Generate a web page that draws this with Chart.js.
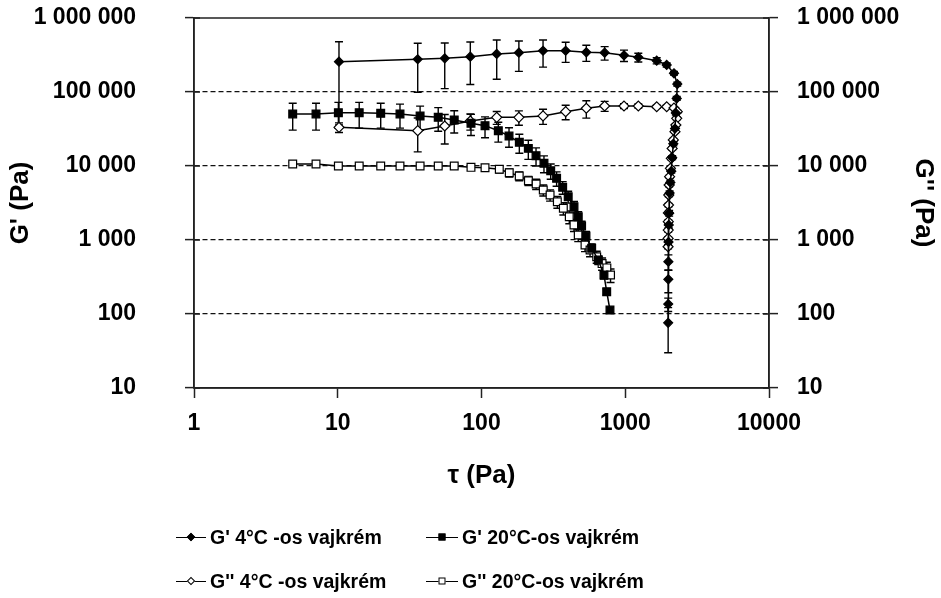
<!DOCTYPE html>
<html>
<head>
<meta charset="utf-8">
<script src="https://cdn.jsdelivr.net/npm/chart.js@4.4.1/dist/chart.umd.min.js"></script>
<style>
  body { margin: 0; background: #fff; }
  #wrap { position: relative; width: 941px; height: 598px; }
  .leg { position: absolute; display: flex; align-items: center; height: 24px;
         font: bold 19.5px "Liberation Sans", Arial, sans-serif; color: #000; white-space: nowrap; }
  .smp { position: relative; width: 30px; height: 0; border-top: 1.5px solid #000; margin-right: 4px; }
  .smp i { position: absolute; left: 50%; top: -0.75px; width: 7px; height: 7px; box-sizing: border-box;
           border: 1.2px solid #000; transform: translate(-50%, -50%); }
  .smp i.dia { width: 6px; height: 6px; transform: translate(-50%, -50%) rotate(45deg); }
  .smp i.fill { background: #000; }
  .smp i.open { background: #fff; }
</style>
</head>
<body>
<div id="wrap">
  <canvas id="rheoChart"></canvas>
  <div class="leg" style="left:176px; top:525px;"><span class="smp"><i class="dia fill"></i></span>G' 4°C -os vajkrém</div>
  <div class="leg" style="left:426px; top:525px;"><span class="smp" style="width:32px"><i class="fill"></i></span>G' 20°C-os vajkrém</div>
  <div class="leg" style="left:176px; top:569px;"><span class="smp"><i class="dia open"></i></span>G'' 4°C -os vajkrém</div>
  <div class="leg" style="left:426px; top:569px;"><span class="smp" style="width:32px"><i class="open"></i></span>G'' 20°C-os vajkrém</div>
</div>
<script>
// G' 4°C
const tauGp4 = [10.2, 36, 55.5, 83.6, 127.6, 182, 268, 385, 536, 719, 980, 1233, 1655, 1942, 2183,
  2301, 2280, 2250, 2218, 2160, 2120, 2090, 2060, 2035, 2020, 2008, 2000, 1996, 1993, 1990, 1988];
const gp4 = [257000, 277000, 285000, 300000, 327000, 340000, 361000, 361000, 344000, 340000, 313000, 294000, 265000, 232000, 179000,
  128000, 82000, 52000, 32000, 20000, 13000, 8500, 6000, 4300, 2300, 1600, 940, 509, 294, 136, 76];
const errGp4 = [221000, 178000, 174000, 174000, 178000, 150000, 144000, 110000, 85000, 70000, 55000, 40000, 25000, 15000, 10000,
  8000, 5000, 3000, 2000, 1200, 800, 500, 400, 300, 200, 150, 110, 120, 100, 28, 46];

// G'' 4°C
const tauGpp4 = [10.2, 36, 55.5, 83.6, 127.6, 182, 268, 385, 536, 719, 980, 1233, 1655, 1942, 2183,
  2301, 2280, 2250, 2218, 2160, 2120, 2090, 2060, 2035, 2020, 2008, 2000, 1996, 1993, 1990, 1988, 1986];
const gpp4 = [33300, 30000, 34700, 40500, 45500, 45500, 47500, 54200, 60300, 64700, 64700, 64700, 63200, 63200, 60800,
  54200, 44100, 35800, 29100, 22500, 17300, 12700, 9300, 7170, 5530, 4050, 2970, 2320, 1770, 1360, 1050, 811];
const errGpp4 = [5000, 14500, 14900, 10000, 9000, 10000, 11000, 12000, 16000, 10000, 5000, 4000, 3000, 3000, 2500,
  2500, 2000, 1600, 1300, 1000, 800, 600, 450, 350, 280, 200, 150, 120, 100, 80, 60, 50];

// G' 20°C
const tauGp20 = [4.86, 7.06, 10.1, 14.1, 19.9, 27.1, 37.4, 50, 64.6, 84.5, 105.8, 130.9, 155.4, 183.3, 211.7,
  239.5, 272, 303, 333, 367, 401, 440, 471, 497, 533, 584, 650, 711, 743, 783];
const gp20 = [50500, 50500, 52500, 52500, 51500, 50500, 47400, 45500, 41900, 37800, 35100, 30000, 25400, 20900, 17300,
  13800, 10900, 8630, 6820, 5150, 3850, 2820, 2060, 1545, 1130, 773, 537, 337, 200, 113];
const errGp20 = [20000, 20000, 20000, 20000, 19000, 18000, 17000, 16000, 14000, 12000, 11000, 9000, 7500, 6000, 5000,
  3800, 2800, 2000, 1500, 1000, 700, 500, 350, 250, 170, 110, 70, 40, 20, 10];

// G'' 20°C
const tauGpp20 = [4.86, 7.06, 10.1, 14.1, 19.9, 27.1, 37.4, 50, 64.6, 84.5, 105.8, 133, 156, 183, 212,
  240, 269, 300, 337, 371, 408, 440, 471, 525, 569, 633, 690, 745, 790];
const gpp20 = [10640, 10640, 10000, 10000, 10000, 10000, 10000, 10000, 10000, 9590, 9490, 9020, 8110, 7320, 6330,
  5710, 4740, 4050, 3290, 2680, 2060, 1600, 1170, 856, 733, 595, 480, 420, 336];
const errGpp20 = [600, 600, 500, 500, 500, 500, 500, 600, 700, 800, 900, 1000, 1000, 1000, 900,
  900, 800, 700, 600, 500, 400, 300, 220, 160, 140, 110, 90, 80, 70];

const xTicks = [1, 10, 100, 1000, 10000];
const yTicks = [10, 100, 1000, 10000, 100000, 1000000];

const family = '"Liberation Sans", Arial, sans-serif';
const tickFont = { family: family, size: 23, weight: 'bold' };
const titleFont = { family: family, size: 26, weight: 'bold' };
const ink = '#222';

const pts = (xs, ys) => xs.map((x, i) => ({ x: x, y: ys[i] }));
const spaced = v => String(Math.round(v)).replace(/\B(?=(\d{3})+(?!\d))/g, ' ');

// error bars + plot frame, drawn through the chart's own scales
const errorBars = {
  id: 'errorBars',
  beforeDatasetsDraw(chart) {
    const ctx = chart.ctx, area = chart.chartArea;
    ctx.save();
    ctx.beginPath();
    ctx.rect(area.left, area.top, area.right - area.left, area.bottom - area.top);
    ctx.clip();
    ctx.strokeStyle = '#000';
    ctx.lineWidth = 1.4;
    chart.data.datasets.forEach((ds, i) => {
      const meta = chart.getDatasetMeta(i);
      const ys = chart.scales[meta.yAxisID];
      meta.data.forEach((p, j) => {
        const v = ds.data[j].y, e = ds.errors[j];
        const top = ys.getPixelForValue(v + e);
        const low = v - e > ys.min ? v - e : null;
        const bot = low ? ys.getPixelForValue(low) : area.bottom;
        ctx.beginPath();
        ctx.moveTo(p.x, top); ctx.lineTo(p.x, bot);
        ctx.moveTo(p.x - 4, top); ctx.lineTo(p.x + 4, top);
        if (low) { ctx.moveTo(p.x - 4, bot); ctx.lineTo(p.x + 4, bot); }
        ctx.stroke();
      });
    });
    ctx.restore();
  },
  afterDraw(chart) {
    const ctx = chart.ctx, a = chart.chartArea;
    ctx.save();
    ctx.strokeStyle = ink;
    ctx.lineWidth = 1.5;
    ctx.strokeRect(a.left, a.top, a.right - a.left, a.bottom - a.top);
    // tick marks also cross into the plot on both value axes
    ctx.beginPath();
    yTicks.forEach(v => {
      const y = chart.scales.y.getPixelForValue(v);
      ctx.moveTo(a.left, y); ctx.lineTo(a.left + 6, y);
      ctx.moveTo(a.right - 6, y); ctx.lineTo(a.right, y);
    });
    ctx.stroke();
    ctx.restore();
  }
};

function valueAxis(pos, title) {
  return {
    type: 'logarithmic', position: pos, min: 10, max: 1000000,
    afterBuildTicks: s => { s.ticks = yTicks.map(v => ({ value: v })); },
    afterFit: s => {
      s.width = pos === 'left' ? 194 : 172;
      s.paddingTop = 0;
      s.paddingBottom = 0;
    },
    grid: {
      drawOnChartArea: pos === 'left',
      color: c => (c.tick && (c.tick.value === 10 || c.tick.value === 1000000)) ? 'rgba(0,0,0,0)' : '#111',
      lineWidth: 1.2,
      tickLength: 9, tickColor: ink, tickWidth: 1.5, tickBorderDash: []
    },
    border: { color: ink, width: 1.5, dash: [5, 3] },
    ticks: { font: tickFont, color: '#000', padding: pos === 'left' ? 49 : 19, autoSkip: false, callback: v => spaced(v) },
    title: { display: true, text: title, font: titleFont, color: '#000', padding: { top: pos === 'left' ? 5 : 2, bottom: 0 } }
  };
}

function series(label, xs, ys, errs, style, filled, r, axis) {
  return {
    label: label, data: pts(xs, ys), errors: errs, yAxisID: axis,
    borderColor: '#000', borderWidth: 1.5, tension: 0,
    pointStyle: style, pointRadius: r, pointBorderWidth: 1.2,
    pointBackgroundColor: filled ? '#000' : '#fff', pointBorderColor: '#000'
  };
}

new Chart(document.getElementById('rheoChart'), {
  type: 'line',
  data: {
    datasets: [
      series("G' 4°C -os vajkrém", tauGp4, gp4, errGp4, 'rectRot', true, 4.5, 'y'),
      series("G' 20°C-os vajkrém", tauGp20, gp20, errGp20, 'rect', true, 5.5, 'y'),
      series("G'' 4°C -os vajkrém", tauGpp4, gpp4, errGpp4, 'rectRot', false, 5, 'y2'),
      series("G'' 20°C-os vajkrém", tauGpp20, gpp20, errGpp20, 'rect', false, 5.5, 'y2')
    ]
  },
  options: {
    responsive: true,
    maintainAspectRatio: false,
    animation: false,
    layout: { padding: { top: 18, bottom: 107, left: 0, right: 0 } },
    plugins: { legend: { display: false }, tooltip: { enabled: false } },
    scales: {
      x: {
        type: 'logarithmic', position: 'bottom', min: 1, max: 10000,
        afterBuildTicks: s => { s.ticks = xTicks.map(v => ({ value: v })); },
        afterFit: s => { s.height = 103; },
        grid: { drawOnChartArea: false, tickLength: 10, tickColor: ink, tickWidth: 1.5 },
        border: { color: ink, width: 1.5 },
        ticks: { font: tickFont, color: '#000', padding: 12, maxRotation: 0, autoSkip: false, callback: v => String(v) },
        title: { display: true, text: 'τ (Pa)', font: titleFont, color: '#000', padding: { top: 0, bottom: 0 } }
      },
      y: valueAxis('left', "G' (Pa)"),
      y2: valueAxis('right', "G'' (Pa)")
    }
  },
  plugins: [errorBars]
});
</script>
</body>
</html>
